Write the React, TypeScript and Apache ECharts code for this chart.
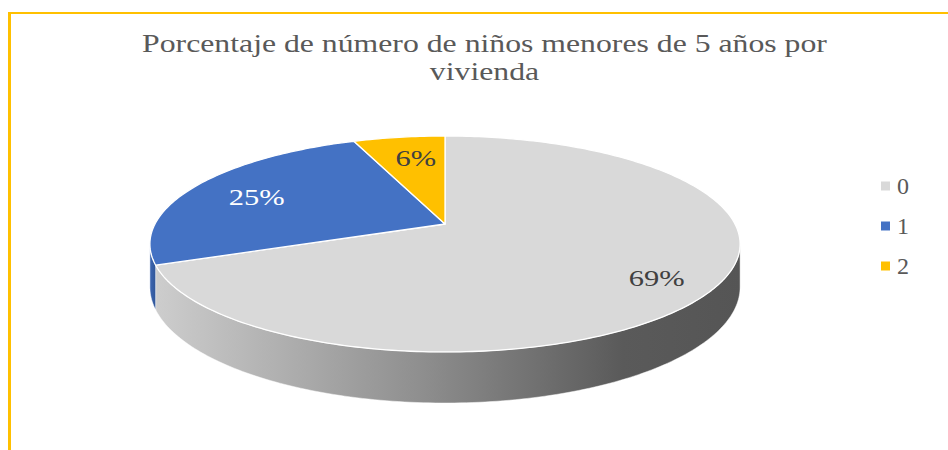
import React, { useEffect, useRef } from 'react';
import * as echarts from 'echarts';

// ---- data ----
const categories = ['0', '1', '2'];
const percentages = [69, 25, 6];
const titleLines = ['Porcentaje de número de niños menores de 5 años por', 'vivienda'];

// ---- styling ----
const TOP_COLORS = ['#d9d9d9', '#4472c4', '#ffc000'];
const SIDE_STOPS: [number, string][][] = [
  [[0, '#cdcdcd'], [0.45, '#8f8f8f'], [0.8, '#5a5a5a'], [1, '#555555']],
  [[0, '#3d67b3'], [1, '#2f5597']],
  [[0, '#e0a800'], [1, '#bf9000']],
];
const LABEL_COLORS = ['#404040', '#ffffff', '#404040'];
const SERIF = 'Times New Roman, Liberation Serif, serif';
const STRETCH = 1.27;

// 3D projection parameters (layout)
const CX = 445;
const CY = 224;
const A = 290;
const B = 104.3;
const K = 0.185;
const H = 41.6;
const LABEL_R = 0.78;
const LABEL_DX = 8;
const LABEL_DY = 4;

function proj(deg: number, r: number, drop: number): [number, number] {
  const t = (deg * Math.PI) / 180;
  const u = r * Math.sin(t);
  const v = -r * Math.cos(t);
  const s = 1 / (1 - K * v);
  return [CX + A * u * s, CY + B * v * s + H * s * drop];
}

function arc(a: number, b: number, r: number, drop: number): [number, number][] {
  const pts: [number, number][] = [];
  const n = Math.max(2, Math.ceil(Math.abs(b - a)));
  for (let j = 0; j <= n; j++) pts.push(proj(a + ((b - a) * j) / n, r, drop));
  return pts;
}

const total = percentages.reduce((s, v) => s + v, 0);
const starts: number[] = [];
{
  let acc = 0;
  for (const v of percentages) {
    starts.push((acc / total) * 360);
    acc += v;
  }
}
const SIL_MIN = (Math.acos(-K) * 180) / Math.PI;
const SIL_MAX = 360 - SIL_MIN;

function makeRenderItem(i: number) {
  return (params: any, api: any) => {
    const val = api.value(0) as number;
    const a = starts[i];
    const b = a + (val / total) * 360;
    const children: any[] = [];
    const sa = Math.max(a, SIL_MIN);
    const sb = Math.min(b, SIL_MAX);
    if (sb > sa) {
      const topEdge = arc(sa, sb, 1, 0);
      const botEdge = arc(sa, sb, 1, 1).reverse();
      children.push({
        type: 'polygon',
        z2: 1,
        shape: { points: topEdge.concat(botEdge) },
        style: {
          fill: new echarts.graphic.LinearGradient(
            0, 0, 1, 0,
            SIDE_STOPS[i].map(([offset, color]) => ({ offset, color }))
          ),
          stroke: 'rgba(255,255,255,0.6)',
          lineWidth: 0.8,
        },
      });
    }
    const face = [proj(0, 0, 0) as [number, number]].concat(arc(a, b, 1, 0));
    children.push({
      type: 'polygon',
      z2: 10,
      shape: { points: face },
      style: { fill: TOP_COLORS[i], stroke: '#ffffff', lineWidth: 1.3, lineJoin: 'round' },
    });
    const mid = (a + b) / 2;
    const [lx, ly] = proj(mid, LABEL_R, 0);
    children.push({
      type: 'text',
      z2: 20,
      x: lx + LABEL_DX,
      y: ly + LABEL_DY,
      scaleX: STRETCH,
      style: {
        text: `${val}%`,
        fill: LABEL_COLORS[i],
        font: `24px ${SERIF}`,
        align: 'center',
        verticalAlign: 'middle',
        textAlign: 'center',
        textVerticalAlign: 'middle',
      },
    });
    return { type: 'group', children };
  };
}

export default function App() {
  const ref = useRef<HTMLDivElement>(null);
  useEffect(() => {
    if (!ref.current) return;
    const chart = echarts.init(ref.current, undefined, { renderer: 'svg' });
    const titleStyle = (text: string) => ({
      text,
      fill: '#595959',
      font: `25px ${SERIF}`,
      align: 'center',
      verticalAlign: 'middle',
      textAlign: 'center',
      textVerticalAlign: 'middle',
    });
    chart.setOption({
      animation: false,
      backgroundColor: '#ffffff',
      legend: {
        data: categories,
        orient: 'vertical',
        left: 876,
        top: 169,
        icon: 'rect',
        itemWidth: 9,
        itemHeight: 9,
        itemGap: 16,
        selectedMode: false,
        textStyle: {
          fontFamily: SERIF,
          fontSize: 24,
          color: '#595959',
          lineHeight: 24,
          padding: [0, 0, 0, 2],
        },
      },
      graphic: [
        { type: 'line', shape: { x1: 9.5, y1: 12, x2: 9.5, y2: 450 }, style: { stroke: '#ffc000', lineWidth: 3 } },
        { type: 'line', shape: { x1: 8, y1: 13, x2: 948, y2: 13 }, style: { stroke: '#ffc000', lineWidth: 2 } },
        { type: 'text', x: 484.5, y: 43.6, scaleX: STRETCH, style: titleStyle(titleLines[0]) },
        { type: 'text', x: 484.5, y: 71.6, scaleX: STRETCH, style: titleStyle(titleLines[1]) },
      ],
      series: categories.map((name, i) => ({
        type: 'custom',
        name,
        coordinateSystem: 'none',
        itemStyle: { color: TOP_COLORS[i] },
        data: [{ name, value: [percentages[i]] }],
        renderItem: makeRenderItem(i),
      })),
    });
    return () => chart.dispose();
  }, []);
  return (
    <div
      ref={ref}
      style={{ position: 'fixed', left: 0, top: 0, width: 948, height: 450, background: '#fff' }}
    />
  );
}
